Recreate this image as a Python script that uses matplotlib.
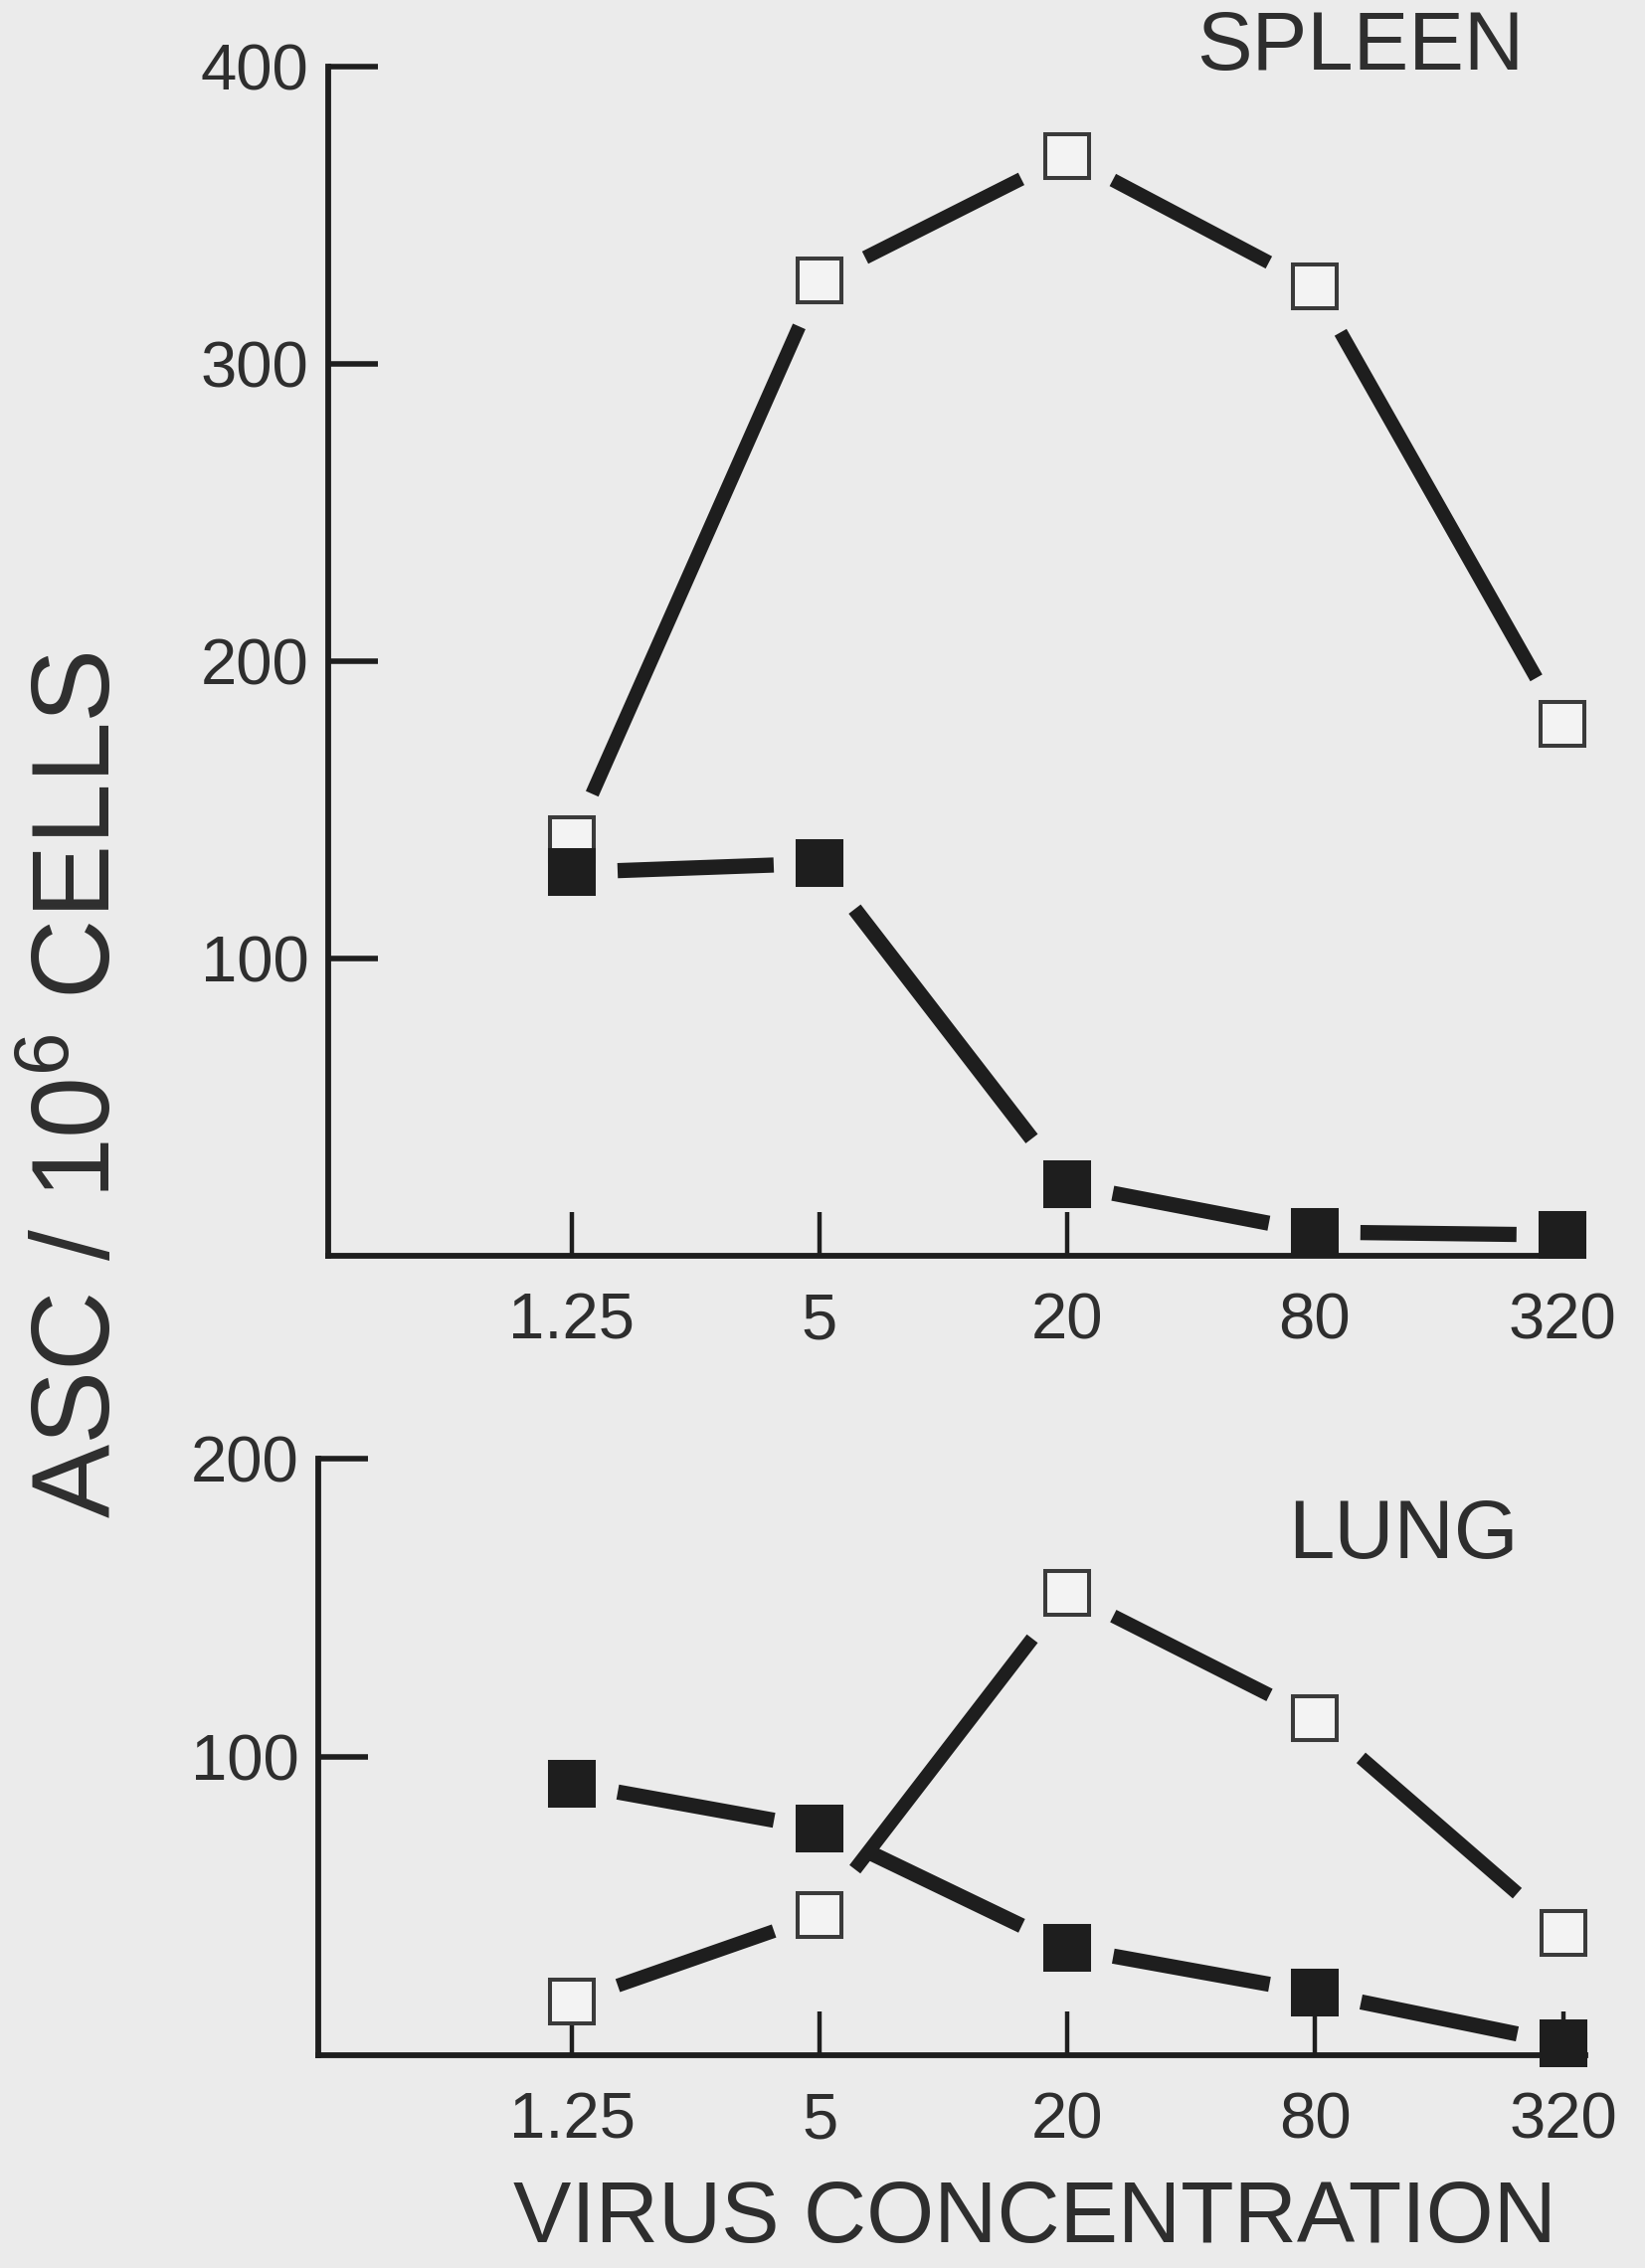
import matplotlib
matplotlib.use('Agg')
import matplotlib.pyplot as plt
import numpy as np

# ---- data ----
concentrations = ['1.25', '5', '20', '80', '320']
spleen_open = [140, 328, 370, 326, 179]
spleen_filled = [129, 132, 24, 8, 7]
lung_open = [18, 47, 155, 113, 41]
lung_filled = [91, 76, 36, 21, 4]
spleen_yticks = [100, 200, 300, 400]
lung_yticks = [100, 200]

plt.rcParams['font.family'] = ['Liberation Sans', 'DejaVu Sans']
plt.rcParams['mathtext.fontset'] = 'custom'
plt.rcParams['mathtext.rm'] = 'Liberation Sans'
plt.rcParams['mathtext.default'] = 'regular'

BG = '#ebebeb'
INK = '#1e1e1e'
TXT = '#2e2e2e'
OPEN_FACE = '#f3f3f3'
OPEN_EDGE = '#3a3a3a'

W, H = 1654, 2281
fig = plt.figure(figsize=(W / 100, H / 100), dpi=100, facecolor=BG)

ax_top = fig.add_axes([330 / W, (H - 1263) / H, (1577 - 330) / W, (1263 - 67) / H])
ax_bot = fig.add_axes([320 / W, (H - 2067) / H, (1594 - 320) / W, (2067 - 1467) / H])

x = np.arange(len(concentrations))


def style(ax, xlim, ylim, yticks):
    ax.set_facecolor('none')
    ax.set_xlim(*xlim)
    ax.set_ylim(*ylim)
    for s in ['top', 'right']:
        ax.spines[s].set_visible(False)
    for s in ['left', 'bottom']:
        ax.spines[s].set_linewidth(4.2)
        ax.spines[s].set_color(INK)
        ax.spines[s].set_capstyle('projecting')
    ax.set_xticks(x)
    ax.set_xticklabels(concentrations)
    ax.set_yticks(yticks)
    ax.set_yticklabels([str(v) for v in yticks])
    ax.tick_params(axis='y', direction='in', length=36, width=4, color=INK,
                   pad=14, labelsize=47, labelcolor=TXT)
    ax.tick_params(axis='x', direction='in', length=32, width=3.2, color=INK,
                   pad=26, labelsize=47, labelcolor=TXT)


style(ax_top, (-0.984, 4.025), (0, 400), spleen_yticks)
style(ax_bot, (-1.024, 4.09), (0, 200), lung_yticks)

GAP = 46  # px half-size of the clear box around each marker


def gapped_line(ax, xs, ys, lw):
    T = ax.transData
    inv = T.inverted()
    pts = T.transform(np.column_stack([xs, ys]).astype(float))
    for p0, p1 in zip(pts[:-1], pts[1:]):
        d = p1 - p0
        t = GAP / max(abs(d[0]), abs(d[1]))
        a = p0 + t * d
        b = p1 - t * d
        seg = inv.transform(np.vstack([a, b]))
        ax.plot(seg[:, 0], seg[:, 1], color=INK, lw=lw, solid_capstyle='butt',
                clip_on=False, zorder=2)


def markers(ax, ys, filled, z):
    if filled:
        ax.plot(x, ys, linestyle='none', marker='s', ms=32, mew=2.9,
                mfc=INK, mec=INK, clip_on=False, zorder=z)
    else:
        ax.plot(x, ys, linestyle='none', marker='s', ms=32, mew=2.9,
                mfc=OPEN_FACE, mec=OPEN_EDGE, clip_on=False, zorder=z)


for ax, op, fi in [(ax_top, spleen_open, spleen_filled),
                   (ax_bot, lung_open, lung_filled)]:
    gapped_line(ax, x, op, 10)
    gapped_line(ax, x, fi, 11)
    markers(ax, op, False, 4)
    markers(ax, fi, True, 5)

fig.text(1368 / W, 1 - 48 / H, 'SPLEEN', ha='center', va='center',
         fontsize=60, color=TXT)
fig.text(1411 / W, 1 - 1545 / H, 'LUNG', ha='center', va='center',
         fontsize=60, color=TXT)
fig.text(82 / W, 1 - 1091 / H, 'ASC / 10$^{6}$ CELLS', ha='center', va='center',
         rotation=90, fontsize=80, color=TXT)
fig.text(1040 / W, 1 - 2233 / H, 'VIRUS CONCENTRATION', ha='center', va='center',
         fontsize=63, color=TXT)

fig.savefig('out.png', dpi=100, facecolor=BG)
